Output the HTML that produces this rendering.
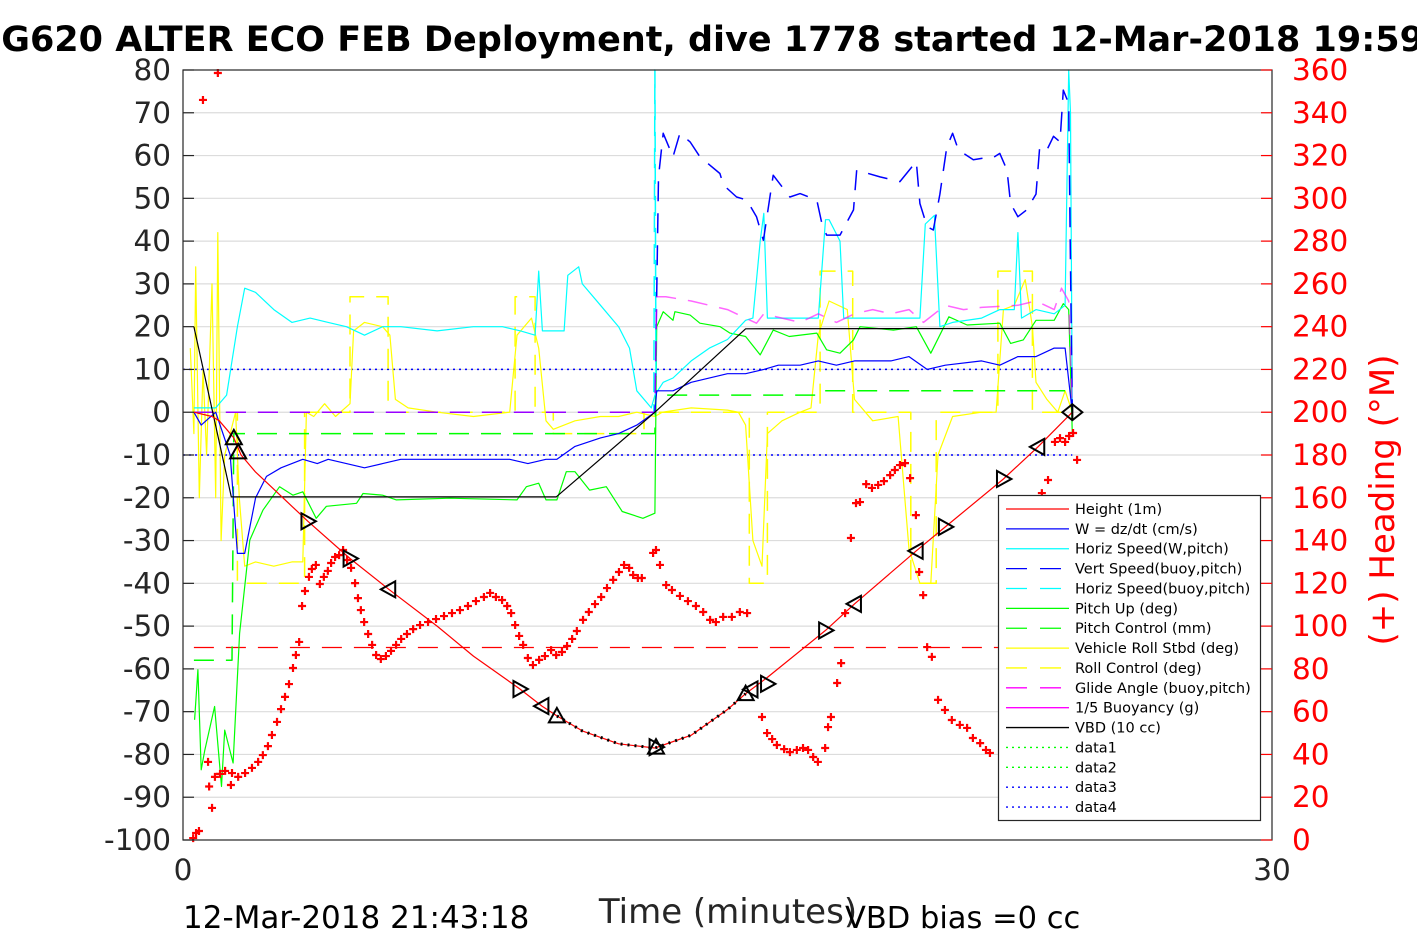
<!DOCTYPE html>
<html><head><meta charset="utf-8">
<style>
html,body{margin:0;padding:0;background:#fff;}
svg{display:block;font-family:"DejaVu Sans","Liberation Sans",sans-serif;}
</style></head>
<body>
<svg id="chart" width="1417" height="945" viewBox="0 0 1417 945" xmlns="http://www.w3.org/2000/svg">
<rect x="0" y="0" width="1417" height="945" fill="#fff"/>
<text x="700" y="51" font-size="35" font-weight="bold" text-anchor="middle" fill="#000">SG620 ALTER ECO FEB Deployment, dive 1778 started 12-Mar-2018 19:59</text>
<g id="grid"></g>
<g id="series"></g>
<rect x="183" y="70" width="1089" height="770" fill="none" stroke="#262626" stroke-width="1.2"/>
<g id="axes"></g>
<text x="728" y="923" font-size="34" text-anchor="middle" fill="#262626">Time (minutes)</text>
<text x="183" y="928" font-size="31" fill="#000">12-Mar-2018 21:43:18</text>
<text x="845" y="928" font-size="30.5" fill="#000">VBD bias =0 cc</text>
<text transform="translate(1394,500) rotate(-90)" font-size="34" text-anchor="middle" fill="#ff0000">(+) Heading (°M)</text>
<g id="legend"></g>
</svg>
<script>
// ---- data ----
const leftTicks=[80,70,60,50,40,30,20,10,0,-10,-20,-30,-40,-50,-60,-70,-80,-90,-100];
const rightTicks=[360,340,320,300,280,260,240,220,200,180,160,140,120,100,80,60,40,20,0];
const xTicks=[0,30];

const heightT=[0.3,0.8,1.0,1.2,1.4,1.6,2.0,2.5,3.0,3.44,4.6,5.67,7,8,9.28,9.89,10.3,11,12,13,14,15,15.5,16.1,17.7,18.5,20.2,21.0,22.6,23.55,24.5];
const heightV=[0,-1,-2,-4,-6,-10,-14,-18,-22,-25.5,-34.2,-41.4,-50,-57,-64.7,-68.7,-71,-74.5,-77.5,-78.5,-75.5,-69.5,-65.8,-62,-51,-44.8,-32.4,-26.8,-15.6,-8.1,0];

const wT=[0.3,0.5,0.9,1.3,1.5,1.7,2.0,2.3,2.7,3.0,3.3,3.7,4.0,4.5,5.0,5.5,6,7,8,9,9.5,10.0,10.3,10.8,11.5,12,12.5,13.0,13.05,13.5,14,15,15.5,16,16.4,17,17.5,18,18.5,19,19.5,20,20.5,21,22,22.5,23,23.5,24,24.3,24.5];
const wV=[0,-3,0,-10,-33,-33,-20,-15,-13,-12,-11,-12,-11,-12,-13,-12,-11,-11,-11,-11,-12,-11,-11,-8,-6,-5,-3,0,5,5,7,9,9,10,11,11,12,11,12,12,12,13,10,11,12,11,13,13,15,15,0];

const hsT=[0.3,0.9,1.2,1.5,1.7,2,2.5,3,3.5,4,4.5,5,5.5,6,7,8,8.8,9.3,9.7,9.8,9.9,10.5,10.6,10.9,11.0,11.5,12,12.3,12.5,12.9,13.0,13.23,13.5,14,14.5,15,15.5,15.7,15.9,16.0,16.1,16.5,17.0,17.5,17.7,17.8,18.1,18.2,18.5,19,20,20.3,20.45,20.7,20.85,21.2,22,22.5,22.9,23.0,23.1,23.5,24.0,24.3,24.4,24.45,24.5];
const hsV=[1,1,4,20,29,28,24,21,22,21,20,18,20,20,19,20,20,19,18,33,19,19,32,34,30,25,20,15,5,1,4,7,8,12,15,17,21.5,22,40,46.5,22,22,22,22,45,45,40,22,22,22,22,22,44,46,20,21,22,24,24,42,22,24,23,25,80,70,0];

const vsT=[0.3,12.98,13.0,13.1,13.23,13.5,13.69,13.97,14.24,14.79,14.89,15.25,15.53,15.8,15.99,16.26,16.72,17.0,17.46,17.6,17.73,18.1,18.47,18.56,19.2,19.75,20.2,20.3,20.5,20.67,20.85,21.04,21.2,21.36,21.77,22.05,22.3,22.5,22.7,22.8,23.0,23.24,23.5,23.6,23.8,23.98,24.16,24.25,24.4,24.44,24.5];
const vsV=[0,0,0,55,65.2,59.7,65.2,63.2,59.7,55.8,53.1,50.3,49.6,45.7,40.2,55.4,50.3,51.1,49.6,44.1,41.4,41.4,47.3,56.6,55,53.9,58.6,48.8,43.4,42.6,51,62,65.2,61.3,59,59.4,59.4,60.5,56.6,48.8,45.7,47.3,51,62,61.3,64.5,63.2,75.3,72.2,40,0];

const hbT=[0.3,12.97,13.0,13.03];
const hbV=[0,0,80,7];

const pitchT=[0.32,0.41,0.5,0.6,0.87,1.06,1.15,1.38,1.56,1.84,2.2,2.66,3.03,3.3,3.67,3.95,4.78,4.96,5.5,5.88,7.35,9.2,9.46,9.8,10.0,10.3,10.56,10.8,11.2,11.66,12.1,12.67,13.0,13.05,13.23,13.5,13.55,13.97,14.24,14.8,15.07,15.5,15.9,16.26,16.7,17.46,17.73,18.1,18.47,18.65,19.57,20.2,20.6,21.1,21.6,22.5,22.8,23.15,23.5,24.0,24.25,24.4,24.5];
const pitchV=[-71.9,-60.2,-83.6,-79,-68.8,-87.5,-74.3,-82,-51.7,-29.9,-22.9,-17.4,-19.4,-18.6,-24.8,-22,-21.3,-19,-19.4,-20.5,-20.1,-20.5,-17.4,-16.6,-20.5,-20.5,-13.9,-13.9,-18.2,-17.4,-23.2,-24.8,-23.6,20,23.5,21.5,23.5,22.7,20.8,20,18.5,17.7,13.4,19.2,17.7,18.5,14.6,13.8,16.9,20,19.2,20,13.8,22.3,20.4,20.8,16.1,16.9,21.5,21.5,25.4,24,-5];

const pcT=[0.3,1.35,1.4,13.0,13.02,17.5,17.6,24.3];
const pcV=[-58,-58,-5,-5,4,4,5,5];

const rollT=[0.2,0.3,0.35,0.45,0.55,0.65,0.8,0.9,0.96,1.05,1.15,1.3,1.45,1.55,1.7,2.0,2.5,3.0,3.3,3.4,3.6,3.9,4.2,4.6,4.7,5.0,5.5,5.7,5.85,6.2,7,8,9.0,9.2,9.6,9.8,10.0,10.2,10.8,11.5,12.0,12.5,13.0,13.2,14,15.0,15.3,15.5,15.7,15.95,16.1,16.5,17.0,17.3,17.5,17.8,18.3,18.5,19.0,19.7,20.0,20.3,20.6,20.8,21.2,22.0,22.4,22.6,22.9,23.2,23.4,23.5,23.8,24.1,24.3,24.5];
const rollV=[15,-5,34,-20,10,-10,30,-20,42,-30,-10,-5,0,-20,-36,-35,-36,-35,-35,0,-1,2,-1,2,19,21,20,18,3,1,0,-1,0,18,22,15,-2,-4,-2,-1,-1,0,-1,0,1,0.5,0,-3,-30,-36,-5,-2,0,1,18,26,24,3,-2,-1,-32,-40,-40,-10,-1,0,0,24,25,31,20,7,3,0,5,0];

const rcT=[0.3,1.5,1.5,3.35,3.35,4.6,4.6,5.65,5.65,9.15,9.15,9.7,9.7,10.2,10.2,12.7,12.7,15.6,15.6,16.1,16.1,17.55,17.55,18.45,18.45,20.05,20.05,20.75,20.75,22.45,22.45,23.4,23.4,24.4];
const rcV=[0,0,-40,-40,0,0,27,27,0,0,27,27,0,0,-5,-5,0,0,-40,-40,0,0,33,33,0,0,-40,-40,0,0,33,33,0,0];

const glideT=[0.3,13.0,13.05,13.3,14,14.5,15,15.5,15.8,16,16.5,17,17.5,18,18.5,19,19.5,20,20.4,21,21.5,22,23,23.5,24,24.2,24.4,24.5];
const glideV=[0,0,27,27,26,25,24,22,20.8,23,22,21,23,21,23,24,23,24,21,25,24,24.5,25,26,24,29,26,0];

const vbdT=[0.3,1.33,10.28,13.0,15.5,24.5];
const vbdV=[20,-19.8,-19.8,0,19.5,19.6];

const headT=[0.28,0.36,0.44,0.55,0.96,0.72,0.69,0.80,0.88,1.02,1.16,1.35,1.32,1.52,1.71,1.90,2.07,2.20,2.34,2.45,2.59,2.70,2.81,2.92,3.03,3.11,3.20,3.28,3.36,3.47,3.55,3.66,3.77,3.88,3.99,4.08,4.19,4.30,4.41,4.52,4.63,4.74,4.82,4.90,4.99,5.10,5.21,5.32,5.45,5.59,5.73,5.87,6.01,6.17,6.34,6.53,6.75,6.97,7.19,7.41,7.63,7.85,8.07,8.29,8.46,8.62,8.79,8.93,9.04,9.15,9.26,9.37,9.50,9.64,9.81,9.97,10.14,10.28,10.44,10.58,10.72,10.85,11.02,11.18,11.35,11.52,11.68,11.85,12.01,12.15,12.29,12.40,12.53,12.64,12.95,13.03,13.14,13.31,13.47,13.69,13.91,14.13,14.33,14.52,14.68,14.88,15.12,15.34,15.54,15.95,16.09,16.23,16.36,16.56,16.72,16.91,17.08,17.22,17.36,17.49,17.69,17.77,17.85,18.02,18.13,18.24,18.40,18.54,18.65,18.82,18.98,19.15,19.31,19.48,19.61,19.75,19.89,20.03,20.19,20.28,20.39,20.50,20.63,20.80,20.99,21.18,21.40,21.60,21.76,21.96,22.12,22.23,23.66,23.83,24.02,24.16,24.30,24.41,24.52,24.63];
const headV=[0.9,3.3,4.2,346,358.6,25,36.5,15,29.5,30.9,32.3,31.3,25.7,29.5,31.3,33.7,36.5,39.7,43.9,49.1,55.2,61.2,66.9,72.9,80.4,86.5,92.6,109.4,116.4,123,126.7,128.6,119.7,123,125.8,129.5,132.3,133.2,135.6,130.9,127.2,120.1,113.1,107.5,101.9,96.3,91.2,86.5,84.6,86,88.4,91.2,94,96.3,98.6,100.5,101.9,103.3,104.7,106.1,107.5,109.4,111.7,113.6,115.5,113.6,112.2,109.4,106.1,100.5,95.4,91.2,85.1,81.8,84.2,86,88.8,86.5,87.9,90.7,94,97.7,102.9,106.6,110.3,113.6,117.8,121.6,125.3,128.6,127.2,123.9,122.5,122.5,134.2,135.6,128.6,119.2,116.9,114.1,111.7,109.4,106.6,102.9,101.9,104.3,104.3,106.6,106.1,57.5,50,47.2,44.4,42.5,41.1,42.1,43,42.1,38.8,36.5,43,52.8,57.5,73.4,82.7,106.1,141.2,157.5,158,166.4,164.6,166,167.8,170.6,173,175.3,176.2,169.2,151.9,125.3,114.5,90.2,85.6,65.5,60.8,56.1,53.8,52.4,47.7,45.3,42.1,40.7,162.2,168.3,186.1,187.9,186.1,188.9,190.3,177.7];

const markT=[1.40,1.52,3.44,4.6,5.67,9.28,9.89,10.3,13.03,13.03,15.5,15.65,16.1,17.7,18.5,20.2,21.0,22.6,23.55,24.5];
const markV=[-6,-9.3,-25.5,-34.2,-41.4,-64.7,-68.7,-71,-78.3,-78.3,-65.8,-64.8,-63.5,-51,-44.8,-32.4,-26.8,-15.6,-8.1,0];
const markK=['u','u','r','r','l','r','l','u','u','r','u','l','r','r','l','l','r','r','l','d'];

// ---- axes ----
const NS='http://www.w3.org/2000/svg';
const X=t=>183+t*1089/30;
const Y=v=>840-(v+100)*770/180;
const YH=h=>840-h*770/360;
function mk(tag,attrs,parent){const e=document.createElementNS(NS,tag);for(const k in attrs)e.setAttribute(k,attrs[k]);parent.appendChild(e);return e;}
const grid=document.getElementById('grid'),ser=document.getElementById('series'),ax=document.getElementById('axes'),leg=document.getElementById('legend');

leftTicks.forEach(v=>{
  const y=Y(v);
  if(v!==80&&v!==-100){const g=mk('line',{x1:183,x2:1272,y1:y,y2:y,stroke:'#dcdcdc','stroke-width':1.2},grid);
  
  }
  const tk=mk('line',{x1:183,x2:194,y1:y,y2:y,stroke:'#262626','stroke-width':1.2},ax);
  
  
  const tx=mk('text',{x:171,y:y+10,'font-size':29.5,'text-anchor':'end',fill:'#262626'},ax);
  tx.textContent=v;
  
  
});
rightTicks.forEach(h=>{
  const y=YH(h);
  const tk=mk('line',{x1:1261,x2:1272,y1:y,y2:y,stroke:'#ff0000','stroke-width':1.2},ax);
  
  
  const tx=mk('text',{x:1292,y:y+10,'font-size':29.5,fill:'#ff0000'},ax);
  tx.textContent=h;
  
  
});
xTicks.forEach(t=>{
  const tx=mk('text',{x:X(t),y:880,'font-size':29.5,'text-anchor':'middle',fill:'#262626'},ax);
  tx.textContent=t;
  
  
});

function line(T,V,color,w,dash,name,op){
  const d=T.map((t,i)=>(i?'L':'M')+X(t).toFixed(1)+' '+Y(V[i]).toFixed(1)).join(' ');
  const p=mk('path',{d:d,fill:'none',stroke:color,'stroke-width':w,'stroke-linejoin':'round'},ser);
  if(dash)p.setAttribute('stroke-dasharray',dash);
  if(op)p.setAttribute('stroke-opacity',op);
  
  
  return p;
}
line([0,24.5],[10,10],'#0000ff',1.5,'2,4','data3-line');
line([0,24.5],[-10,-10],'#0000ff',1.5,'2,4','data4-line');
line([0.3,24.5],[-55,-55],'#ff0000',1.2,'20,12','buoyancy-ref-line');

line(rcT,rcV,'#ffff00',1.5,'20,12','roll-control-line');
line(rollT,rollV,'#ffff00',1.2,null,'vehicle-roll-line');
line(pcT,pcV,'#00ff00',1.5,'20,12','pitch-control-line');
line(pitchT,pitchV,'#00ff00',1.2,null,'pitch-up-line');
line(hbT,hbV,'#00ffff',1.5,'20,12','horiz-speed-buoy-line');
line(hsT,hsV,'#00ffff',1.2,null,'horiz-speed-w-line');
line(vsT,vsV,'#0000ff',1.5,'20,12','vert-speed-buoy-line');
line(glideT,glideV,'#ff00ff',1.5,'20,12','glide-angle-line','0.6');
line(wT,wV,'#0000ff',1.2,null,'w-dzdt-line');
line(vbdT,vbdV,'#000000',1.2,null,'vbd-line');
line(heightT,heightV,'#ff0000',1.2,null,'height-line');
const apT=heightT.filter(t=>t>=10.3&&t<=15.5), apV=heightV.filter((v,i)=>heightT[i]>=10.3&&heightT[i]<=15.5);
line(apT,apV,'#000000',3,'2,5','apogee-dotted-line');

headT.forEach((t,i)=>{
  const x=X(t),y=YH(headV[i]);
  const p=mk('path',{d:`M${x-4} ${y}H${x+4}M${x} ${y-4}V${y+4}`,stroke:'#ff0000','stroke-width':2.2},ser);
  
  
});
markT.forEach((t,i)=>{
  const x=X(t),y=Y(markV[i]),s=8,k=markK[i];
  let d;
  if(k==='u')d=`M${x} ${y-s}L${x+s} ${y+s*0.8}L${x-s} ${y+s*0.8}Z`;
  else if(k==='r')d=`M${x+s} ${y}L${x-s*0.8} ${y-s}L${x-s*0.8} ${y+s}Z`;
  else if(k==='l')d=`M${x-s} ${y}L${x+s*0.8} ${y-s}L${x+s*0.8} ${y+s}Z`;
  else d=`M${x-s-2} ${y}L${x} ${y-s}L${x+s+2} ${y}L${x} ${y+s}Z M${x} ${y-s}V${y+s}`;
  const p=mk('path',{d:d,fill:'none',stroke:'#000','stroke-width':2},ser);
  
  
});

const legNames=['Height (1m)','W = dz/dt (cm/s)','Horiz Speed(W,pitch)','Vert Speed(buoy,pitch)','Horiz Speed(buoy,pitch)','Pitch Up (deg)','Pitch Control (mm)','Vehicle Roll Stbd (deg)','Roll Control (deg)','Glide Angle (buoy,pitch)','1/5 Buoyancy (g)','VBD (10 cc)','data1','data2','data3','data4'];
const legColors=['#ff0000','#0000ff','#00ffff','#0000ff','#00ffff','#00ff00','#00ff00','#ffff00','#ffff00','#ff00ff','#ff00ff','#000000','#00ff00','#00ff00','#0000ff','#0000ff'];
const legStyle=['s','s','s','d','d','s','d','s','d','d','s','s','o','o','o','o'];
const lb=mk('rect',{x:998.5,y:495.5,width:262,height:325,fill:'#fff',stroke:'#262626','stroke-width':1.2},leg);


legNames.forEach((n,i)=>{
  const y=509+i*19.87;
  const g=mk('g',{},leg);
  
  
  const ln=mk('line',{x1:1006,x2:1069,y1:y,y2:y,stroke:legColors[i],'stroke-width':1.3},g);
  if(legStyle[i]==='d'){ln.setAttribute('stroke-dasharray','21,13');ln.setAttribute('x2',1062);}
  if(legStyle[i]==='o')ln.setAttribute('stroke-dasharray','2,4');
  const t=mk('text',{x:1075,y:y+5,'font-size':14.5,fill:'#000'},g);
  t.textContent=n;
});
</script>
</body></html>
